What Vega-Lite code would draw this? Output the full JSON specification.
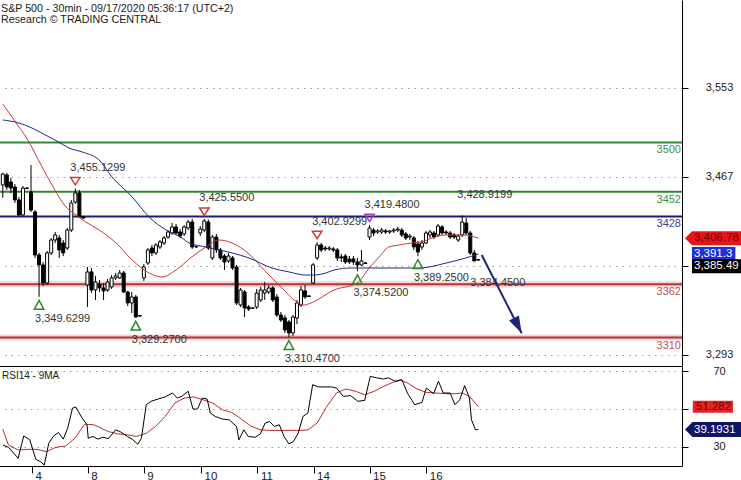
{
"$schema": "https://vega.github.io/schema/vega-lite/v6.json",
"padding": {"left": -1, "top": 0, "right": 0, "bottom": 0},
"background": "white",
"spacing": 0,
"bounds": "flush",
"config": {"view": {"stroke": null}, "font": "Liberation Sans", "scale": {"continuousPadding": 0}, "axis": {"labelFont": "Liberation Sans", "labelColor": "#222", "domainColor": "#000", "tickColor": "#000", "gridColor": "#9a9a9a", "gridDash": [1.5, 5], "labelOverlap": false, "labelFlush": false}},
"datasets": {
"bars": [
{"i":0,"o":3458.6,"h":3470.3,"l":3445.9,"c":3469.3},{"i":1,"o":3468.3,"h":3470.3,"l":3453.7,"c":3456.6},{"i":2,"o":3461.5,"h":3465.4,"l":3450.8,"c":3455.6},{"i":3,"o":3456.6,"h":3459.5,"l":3441.0,"c":3444.0},{"i":4,"o":3444.0,"h":3446.9,"l":3428.4,"c":3429.4},{"i":5,"o":3429.4,"h":3457.6,"l":3428.4,"c":3455.6},{"i":6,"o":3455.6,"h":3456.6,"l":3454.7,"c":3455.1},
{"i":7,"o":3451.8,"h":3478.0,"l":3432.3,"c":3434.2},{"i":8,"o":3432.3,"h":3434.2,"l":3387.5,"c":3390.4},{"i":9,"o":3390.4,"h":3392.4,"l":3349.63,"c":3380.7},{"i":10,"o":3380.7,"h":3383.6,"l":3360.2,"c":3363.1},{"i":11,"o":3363.1,"h":3394.3,"l":3361.2,"c":3392.4},{"i":12,"o":3392.4,"h":3407.0,"l":3390.4,"c":3405.0},{"i":13,"o":3405.0,"h":3412.8,"l":3402.1,"c":3409.9},{"i":14,"o":3407.0,"h":3409.9,"l":3387.5,"c":3395.3},{"i":15,"o":3402.1,"h":3405.0,"l":3389.4,"c":3392.4},{"i":16,"o":3397.2,"h":3416.7,"l":3395.3,"c":3414.7},{"i":17,"o":3414.7,"h":3444.0,"l":3412.8,"c":3441.0},{"i":18,"o":3442.0,"h":3455.13,"l":3440.1,"c":3450.8},{"i":19,"o":3450.8,"h":3453.7,"l":3426.4,"c":3427.4},{"i":20,"o":3427.4,"h":3428.4,"l":3425.5,"c":3426.4},
{"i":21,"o":3361.2,"h":3378.7,"l":3339.8,"c":3373.9},{"i":22,"o":3373.9,"h":3377.7,"l":3353.4,"c":3356.3},{"i":23,"o":3356.3,"h":3370.0,"l":3346.6,"c":3364.1},{"i":24,"o":3362.2,"h":3366.1,"l":3354.4,"c":3358.3},{"i":25,"o":3358.3,"h":3363.1,"l":3346.6,"c":3355.4},{"i":26,"o":3356.3,"h":3367.0,"l":3354.4,"c":3364.1},{"i":27,"o":3359.3,"h":3370.9,"l":3357.3,"c":3368.0},{"i":28,"o":3368.0,"h":3372.9,"l":3366.1,"c":3370.0},{"i":29,"o":3368.0,"h":3375.8,"l":3367.0,"c":3372.9},{"i":30,"o":3372.9,"h":3374.8,"l":3353.4,"c":3354.4},{"i":31,"o":3354.4,"h":3355.4,"l":3340.7,"c":3343.7},{"i":32,"o":3343.7,"h":3354.4,"l":3333.9,"c":3349.5},{"i":33,"o":3349.5,"h":3351.5,"l":3329.27,"c":3330.0},{"i":34,"o":3331.0,"h":3332.0,"l":3330.0,"c":3331.5},
{"i":35,"o":3368.0,"h":3381.6,"l":3365.1,"c":3378.7},{"i":36,"o":3382.6,"h":3397.2,"l":3380.7,"c":3395.3},{"i":37,"o":3397.2,"h":3400.1,"l":3389.4,"c":3392.4},{"i":38,"o":3392.4,"h":3402.1,"l":3390.4,"c":3400.1},{"i":39,"o":3398.2,"h":3405.0,"l":3396.3,"c":3403.1},{"i":40,"o":3402.1,"h":3408.9,"l":3400.1,"c":3407.0},{"i":41,"o":3407.9,"h":3414.7,"l":3406.0,"c":3412.8},{"i":42,"o":3411.8,"h":3421.6,"l":3409.9,"c":3417.7},{"i":43,"o":3417.7,"h":3420.6,"l":3409.9,"c":3411.8},{"i":44,"o":3412.8,"h":3415.7,"l":3407.0,"c":3408.9},{"i":45,"o":3410.9,"h":3419.6,"l":3408.9,"c":3417.7},{"i":46,"o":3416.7,"h":3424.5,"l":3414.7,"c":3422.5},{"i":47,"o":3422.5,"h":3425.5,"l":3396.3,"c":3398.2},{"i":48,"o":3398.2,"h":3399.2,"l":3397.2,"c":3398.7},
{"i":49,"o":3411.8,"h":3418.6,"l":3408.9,"c":3415.7},{"i":50,"o":3414.7,"h":3425.55,"l":3412.8,"c":3423.5},{"i":51,"o":3422.5,"h":3425.0,"l":3395.3,"c":3397.2},{"i":52,"o":3387.5,"h":3409.9,"l":3385.5,"c":3407.9},{"i":53,"o":3407.9,"h":3410.9,"l":3392.4,"c":3395.3},{"i":54,"o":3395.3,"h":3397.2,"l":3385.5,"c":3387.5},{"i":55,"o":3389.4,"h":3391.4,"l":3375.8,"c":3383.6},{"i":56,"o":3384.6,"h":3392.4,"l":3382.6,"c":3389.4},{"i":57,"o":3387.5,"h":3389.4,"l":3375.8,"c":3377.7},{"i":58,"o":3378.7,"h":3380.7,"l":3341.7,"c":3343.7},{"i":59,"o":3341.7,"h":3358.3,"l":3339.8,"c":3356.3},{"i":60,"o":3354.4,"h":3356.3,"l":3330.0,"c":3338.8},{"i":61,"o":3339.8,"h":3341.7,"l":3335.9,"c":3337.8},{"i":62,"o":3338.8,"h":3339.8,"l":3337.8,"c":3338.3},
{"i":63,"o":3339.8,"h":3357.3,"l":3337.8,"c":3353.4},{"i":64,"o":3346.6,"h":3359.3,"l":3344.6,"c":3356.3},{"i":65,"o":3353.4,"h":3364.1,"l":3346.6,"c":3356.3},{"i":66,"o":3354.4,"h":3361.2,"l":3352.4,"c":3358.3},{"i":67,"o":3358.3,"h":3360.2,"l":3344.6,"c":3346.6},{"i":68,"o":3349.5,"h":3352.4,"l":3330.0,"c":3332.0},{"i":69,"o":3332.0,"h":3334.9,"l":3325.2,"c":3327.1},{"i":70,"o":3329.1,"h":3332.0,"l":3314.5,"c":3317.4},{"i":71,"o":3325.2,"h":3327.1,"l":3310.47,"c":3314.5},{"i":72,"o":3314.5,"h":3332.0,"l":3311.5,"c":3330.0},{"i":73,"o":3329.1,"h":3346.6,"l":3323.2,"c":3343.7},{"i":74,"o":3341.7,"h":3360.2,"l":3339.8,"c":3356.3},{"i":75,"o":3355.4,"h":3361.2,"l":3347.6,"c":3349.5},{"i":76,"o":3350.5,"h":3351.5,"l":3349.5,"c":3350.0},
{"i":77,"o":3363.1,"h":3382.6,"l":3362.2,"c":3380.7},{"i":78,"o":3387.5,"h":3402.93,"l":3385.5,"c":3400.1},{"i":79,"o":3400.1,"h":3402.1,"l":3393.3,"c":3395.3},{"i":80,"o":3397.2,"h":3399.2,"l":3394.3,"c":3396.3},{"i":81,"o":3396.3,"h":3399.2,"l":3394.3,"c":3397.2},{"i":82,"o":3396.3,"h":3398.2,"l":3393.3,"c":3395.3},{"i":83,"o":3395.3,"h":3397.2,"l":3384.6,"c":3387.5},{"i":84,"o":3388.5,"h":3391.4,"l":3383.6,"c":3387.5},{"i":85,"o":3389.4,"h":3391.4,"l":3381.6,"c":3383.6},{"i":86,"o":3386.5,"h":3389.4,"l":3381.6,"c":3383.6},{"i":87,"o":3386.5,"h":3389.4,"l":3380.7,"c":3383.6},{"i":88,"o":3383.6,"h":3387.5,"l":3374.52,"c":3380.7},{"i":89,"o":3380.7,"h":3395.3,"l":3379.7,"c":3384.6},{"i":90,"o":3382.6,"h":3383.6,"l":3381.6,"c":3382.1},
{"i":91,"o":3407.9,"h":3419.48,"l":3405.0,"c":3416.7},{"i":92,"o":3414.7,"h":3416.7,"l":3408.9,"c":3411.8},{"i":93,"o":3412.8,"h":3415.7,"l":3410.9,"c":3413.8},{"i":94,"o":3412.8,"h":3416.7,"l":3410.9,"c":3414.7},{"i":95,"o":3413.8,"h":3415.7,"l":3410.9,"c":3412.8},{"i":96,"o":3412.8,"h":3414.7,"l":3410.9,"c":3413.8},{"i":97,"o":3413.8,"h":3416.7,"l":3411.8,"c":3414.7},{"i":98,"o":3414.7,"h":3417.7,"l":3412.8,"c":3415.7},{"i":99,"o":3414.7,"h":3416.7,"l":3407.9,"c":3409.9},{"i":100,"o":3410.9,"h":3412.8,"l":3405.0,"c":3407.0},{"i":101,"o":3407.9,"h":3410.9,"l":3405.0,"c":3408.9},{"i":102,"o":3407.0,"h":3408.9,"l":3395.3,"c":3398.2},{"i":103,"o":3401.1,"h":3404.0,"l":3389.25,"c":3393.3},{"i":104,"o":3398.2,"h":3405.0,"l":3395.3,"c":3402.1},
{"i":105,"o":3402.1,"h":3413.8,"l":3401.1,"c":3411.8},{"i":106,"o":3409.9,"h":3414.7,"l":3407.0,"c":3412.8},{"i":107,"o":3411.8,"h":3413.8,"l":3406.0,"c":3407.9},{"i":108,"o":3409.9,"h":3420.6,"l":3407.9,"c":3418.6},{"i":109,"o":3417.7,"h":3419.6,"l":3409.9,"c":3411.8},{"i":110,"o":3412.8,"h":3414.7,"l":3409.9,"c":3411.8},{"i":111,"o":3411.8,"h":3413.8,"l":3406.0,"c":3407.9},{"i":112,"o":3409.9,"h":3411.8,"l":3406.0,"c":3407.9},{"i":113,"o":3405.0,"h":3410.9,"l":3403.1,"c":3408.9},{"i":114,"o":3409.9,"h":3428.92,"l":3407.9,"c":3422.5},{"i":115,"o":3421.6,"h":3426.4,"l":3409.9,"c":3411.8},{"i":116,"o":3411.8,"h":3413.8,"l":3390.4,"c":3392.4},{"i":117,"o":3392.4,"h":3395.3,"l":3384.45,"c":3384.6},{"i":118,"o":3386.0,"h":3386.5,"l":3384.6,"c":3385.49}
],
"ma": [
{"i":0,"v":3537.4,"s":"f"},{"i":2.8,"v":3521.9,"s":"f"},{"i":6.5,"v":3500.4,"s":"f"},{"i":9.5,"v":3478.0,"s":"f"},{"i":12.2,"v":3458.6,"s":"f"},{"i":15.7,"v":3437.1,"s":"f"},{"i":18.2,"v":3429.4,"s":"f"},{"i":20.6,"v":3422.5,"s":"f"},{"i":23.9,"v":3414.8,"s":"f"},{"i":28.1,"v":3402.1,"s":"f"},{"i":32.1,"v":3385.5,"s":"f"},{"i":36.3,"v":3372.9,"s":"f"},{"i":39.5,"v":3369.0,"s":"f"},{"i":43.0,"v":3375.8,"s":"f"},{"i":46.9,"v":3388.5,"s":"f"},{"i":50.4,"v":3398.2,"s":"f"},{"i":53.6,"v":3405.0,"s":"f"},{"i":56.9,"v":3402.1,"s":"f"},{"i":61.1,"v":3391.4,"s":"f"},{"i":65.3,"v":3373.9,"s":"f"},{"i":69.3,"v":3358.3,"s":"f"},{"i":72.3,"v":3346.6,"s":"f"},{"i":74.7,"v":3341.7,"s":"f"},{"i":76.5,"v":3343.7,"s":"f"},{"i":82.2,"v":3356.3,"s":"f"},{"i":87.9,"v":3363.1,"s":"f"},{"i":90.9,"v":3377.7,"s":"f"},{"i":93.4,"v":3388.5,"s":"f"},{"i":95.8,"v":3398.2,"s":"f"},{"i":98.3,"v":3400.1,"s":"f"},{"i":101.5,"v":3402.1,"s":"f"},{"i":104.0,"v":3403.1,"s":"f"},{"i":106.5,"v":3407.0,"s":"f"},{"i":110.0,"v":3409.9,"s":"f"},{"i":114.0,"v":3409.9,"s":"f"},{"i":116.2,"v":3408.9,"s":"f"},{"i":118,"v":3406.78,"s":"f"},
{"i":0,"v":3521.9,"s":"s"},{"i":4.0,"v":3518.9,"s":"s"},{"i":7.2,"v":3514.1,"s":"s"},{"i":11.5,"v":3505.3,"s":"s"},{"i":13.9,"v":3500.4,"s":"s"},{"i":16.4,"v":3494.6,"s":"s"},{"i":19.7,"v":3490.7,"s":"s"},{"i":23.9,"v":3482.9,"s":"s"},{"i":27.1,"v":3466.4,"s":"s"},{"i":32.1,"v":3446.9,"s":"s"},{"i":36.3,"v":3427.4,"s":"s"},{"i":40.5,"v":3414.8,"s":"s"},{"i":44.5,"v":3407.0,"s":"s"},{"i":46.2,"v":3402.1,"s":"s"},{"i":50.4,"v":3398.2,"s":"s"},{"i":56.9,"v":3392.4,"s":"s"},{"i":61.1,"v":3387.5,"s":"s"},{"i":66.8,"v":3377.7,"s":"s"},{"i":71.0,"v":3373.9,"s":"s"},{"i":75.2,"v":3370.9,"s":"s"},{"i":77.2,"v":3370.9,"s":"s"},{"i":80.2,"v":3372.9,"s":"s"},{"i":82.2,"v":3375.8,"s":"s"},{"i":86.4,"v":3377.7,"s":"s"},{"i":91.6,"v":3377.7,"s":"s"},{"i":100.0,"v":3377.7,"s":"s"},{"i":103.3,"v":3377.7,"s":"s"},{"i":105.8,"v":3378.7,"s":"s"},{"i":110.0,"v":3382.6,"s":"s"},{"i":114.0,"v":3386.5,"s":"s"},{"i":118,"v":3391.3,"s":"s"}
],
"levels": [{"p":3500,"t":"R"},{"p":3452,"t":"R"},{"p":3428,"t":"P"},{"p":3362,"t":"S"},{"p":3310,"t":"S"}],
"piv": [
{"i":18,"p":3455.13,"lab":"3,455.1299","k":"H"},{"i":50,"p":3425.55,"lab":"3,425.5500","k":"H"},{"i":78,"p":3402.93,"lab":"3,402.9299","k":"H"},{"i":91,"p":3419.48,"lab":"3,419.4800","k":"P"},{"i":114,"p":3428.92,"lab":"3,428.9199","k":"HN"},
{"i":9,"p":3349.63,"lab":"3,349.6299","k":"L"},{"i":33,"p":3329.27,"lab":"3,329.2700","k":"L"},{"i":71,"p":3310.47,"lab":"3,310.4700","k":"L"},{"i":88,"p":3374.52,"lab":"3,374.5200","k":"L"},{"i":103,"p":3389.25,"lab":"3,389.2500","k":"L"},{"i":117,"p":3384.45,"lab":"3,384.4500","k":"LN"}
],
"arrow": [{"i":118.83,"p":3390.4,"i2":128.76,"p2":3314.2}],
"tags": [{"p":3406.78,"lab":"3,406.78","t":"a"},{"p":3391.3,"lab":"3,391.3","t":"b"},{"p":3385.49,"lab":"3,385.49","t":"c"}],
"rtags": [{"v":51.282,"lab":"51.282","t":"m"},{"v":39.1931,"lab":"39.1931","t":"r"}],
"heads": [{"line":"S&P 500 - 30min - 09/17/2020 05:36:17 (UTC+2)","n":1},{"line":"Research © TRADING CENTRAL","n":2}],
"rsi": [
{"i":0,"v":39.4,"s":"m"},{"i":1.4,"v":31.0,"s":"m"},{"i":3.8,"v":28.4,"s":"m"},{"i":6.1,"v":28.7,"s":"m"},{"i":8.5,"v":28.7,"s":"m"},{"i":10.8,"v":27.5,"s":"m"},{"i":13.2,"v":29.8,"s":"m"},{"i":15.6,"v":30.5,"s":"m"},{"i":17.9,"v":34.6,"s":"m"},{"i":20.3,"v":42.0,"s":"m"},{"i":22.6,"v":41.7,"s":"m"},{"i":24.4,"v":39.9,"s":"m"},{"i":26.2,"v":38.1,"s":"m"},{"i":28.5,"v":36.9,"s":"m"},{"i":30.9,"v":36.4,"s":"m"},{"i":33.2,"v":35.5,"s":"m"},{"i":35.6,"v":37.2,"s":"m"},{"i":37.9,"v":40.8,"s":"m"},{"i":40.3,"v":46.1,"s":"m"},{"i":42.7,"v":53.2,"s":"m"},{"i":45.0,"v":55.8,"s":"m"},{"i":47.4,"v":56.4,"s":"m"},{"i":49.7,"v":54.9,"s":"m"},{"i":52.1,"v":53.2,"s":"m"},{"i":54.5,"v":49.6,"s":"m"},{"i":56.8,"v":48.2,"s":"m"},{"i":59.2,"v":44.7,"s":"m"},{"i":61.5,"v":41.1,"s":"m"},{"i":63.9,"v":39.0,"s":"m"},{"i":66.2,"v":38.7,"s":"m"},{"i":69.8,"v":38.7,"s":"m"},{"i":73.3,"v":38.7,"s":"m"},{"i":75.7,"v":39.0,"s":"m"},{"i":78.0,"v":42.6,"s":"m"},{"i":80.4,"v":51.4,"s":"m"},{"i":82.8,"v":58.5,"s":"m"},{"i":85.1,"v":60.6,"s":"m"},{"i":87.5,"v":59.4,"s":"m"},{"i":89.8,"v":57.6,"s":"m"},{"i":92.2,"v":59.4,"s":"m"},{"i":94.5,"v":62.0,"s":"m"},{"i":96.9,"v":64.2,"s":"m"},{"i":98.7,"v":65.2,"s":"m"},{"i":100.4,"v":63.8,"s":"m"},{"i":102.8,"v":60.6,"s":"m"},{"i":105.1,"v":58.8,"s":"m"},{"i":107.5,"v":58.5,"s":"m"},{"i":109.9,"v":58.1,"s":"m"},{"i":112.2,"v":58.1,"s":"m"},{"i":114.0,"v":58.5,"s":"m"},{"i":115.8,"v":56.7,"s":"m"},{"i":118,"v":51.282,"s":"m"},
{"i":0,"v":31.0,"s":"r"},{"i":1.4,"v":29.8,"s":"r"},{"i":3.8,"v":24.0,"s":"r"},{"i":5.2,"v":35.8,"s":"r"},{"i":6.7,"v":33.7,"s":"r"},{"i":8.2,"v":23.4,"s":"r"},{"i":9.4,"v":22.2,"s":"r"},{"i":10.3,"v":20.4,"s":"r"},{"i":11.4,"v":31.9,"s":"r"},{"i":12.6,"v":35.8,"s":"r"},{"i":13.8,"v":37.6,"s":"r"},{"i":15.0,"v":34.1,"s":"r"},{"i":16.1,"v":39.9,"s":"r"},{"i":17.3,"v":50.5,"s":"r"},{"i":18.1,"v":51.1,"s":"r"},{"i":19.7,"v":45.2,"s":"r"},{"i":20.9,"v":41.7,"s":"r"},{"i":21.2,"v":34.6,"s":"r"},{"i":22.4,"v":35.5,"s":"r"},{"i":23.6,"v":34.1,"s":"r"},{"i":24.8,"v":35.1,"s":"r"},{"i":26.2,"v":34.4,"s":"r"},{"i":28.0,"v":39.0,"s":"r"},{"i":29.1,"v":38.1,"s":"r"},{"i":30.9,"v":35.5,"s":"r"},{"i":32.1,"v":34.1,"s":"r"},{"i":33.5,"v":31.4,"s":"r"},{"i":34.4,"v":34.6,"s":"r"},{"i":35.6,"v":52.3,"s":"r"},{"i":36.8,"v":54.1,"s":"r"},{"i":38.5,"v":55.3,"s":"r"},{"i":40.3,"v":56.4,"s":"r"},{"i":42.1,"v":58.5,"s":"r"},{"i":43.3,"v":55.8,"s":"r"},{"i":44.4,"v":56.7,"s":"r"},{"i":46.0,"v":59.4,"s":"r"},{"i":47.2,"v":50.0,"s":"r"},{"i":48.3,"v":50.0,"s":"r"},{"i":49.5,"v":55.8,"s":"r"},{"i":50.7,"v":55.3,"s":"r"},{"i":51.5,"v":47.9,"s":"r"},{"i":52.7,"v":46.1,"s":"r"},{"i":54.5,"v":44.7,"s":"r"},{"i":56.2,"v":44.3,"s":"r"},{"i":58.0,"v":40.8,"s":"r"},{"i":58.6,"v":33.7,"s":"r"},{"i":59.8,"v":39.0,"s":"r"},{"i":60.9,"v":35.5,"s":"r"},{"i":62.7,"v":35.1,"s":"r"},{"i":63.9,"v":36.9,"s":"r"},{"i":65.1,"v":42.6,"s":"r"},{"i":66.2,"v":43.4,"s":"r"},{"i":67.4,"v":40.8,"s":"r"},{"i":68.6,"v":41.7,"s":"r"},{"i":69.8,"v":35.5,"s":"r"},{"i":71.0,"v":31.6,"s":"r"},{"i":72.1,"v":32.8,"s":"r"},{"i":73.3,"v":37.2,"s":"r"},{"i":74.5,"v":46.1,"s":"r"},{"i":75.7,"v":47.9,"s":"r"},{"i":76.9,"v":62.9,"s":"r"},{"i":78.3,"v":61.7,"s":"r"},{"i":81.6,"v":61.7,"s":"r"},{"i":82.8,"v":61.1,"s":"r"},{"i":84.5,"v":56.7,"s":"r"},{"i":86.3,"v":57.1,"s":"r"},{"i":88.1,"v":54.1,"s":"r"},{"i":89.8,"v":54.6,"s":"r"},{"i":91.2,"v":67.3,"s":"r"},{"i":92.8,"v":66.5,"s":"r"},{"i":94.5,"v":65.9,"s":"r"},{"i":95.7,"v":66.5,"s":"r"},{"i":97.3,"v":64.7,"s":"r"},{"i":99.0,"v":65.6,"s":"r"},{"i":100.4,"v":58.5,"s":"r"},{"i":102.2,"v":52.3,"s":"r"},{"i":104.0,"v":53.5,"s":"r"},{"i":105.1,"v":61.1,"s":"r"},{"i":106.9,"v":58.1,"s":"r"},{"i":108.1,"v":64.7,"s":"r"},{"i":109.3,"v":58.5,"s":"r"},{"i":111.0,"v":58.5,"s":"r"},{"i":112.2,"v":52.3,"s":"r"},{"i":113.4,"v":54.9,"s":"r"},{"i":114.6,"v":62.4,"s":"r"},{"i":115.8,"v":55.8,"s":"r"},{"i":116.3,"v":44.3,"s":"r"},{"i":117.3,"v":39.0,"s":"r"},{"i":118,"v":39.1931,"s":"r"}
]
},
"vconcat": [
{
"width": 683, "height": 366,
"layer": [
{"data": {"name": "levels"}, "transform": [{"filter": "datum.t=='S'"}], "mark": {"type": "bar", "orient": "horizontal", "height": 6, "color": "#f6d2d2", "strokeWidth": 0},
 "encoding": {"x": {"datum": -0.943, "type": "quantitative"}, "x2": {"datum": 168.54},
  "y": {"field": "p", "type": "quantitative", "title": null, "scale": {"domain": [3282.3, 3638.7], "nice": false, "zero": false, "padding": 0},
  "axis": {"orient": "right", "values": [3293.33, 3380, 3466.67, 3553.33], "format": ",.0f", "labelExpr": "datum.value==3380?'':datum.label", "tickSize": 6, "labelPadding": 31, "labelAlign": "center", "labelBaseline": "middle", "labelFontSize": 11, "grid": true, "domain": true, "ticks": true, "labels": true, "title": null}}}},
{"data": {"name": "levels"}, "mark": {"type": "bar", "orient": "horizontal", "height": 2, "strokeWidth": 0},
 "encoding": {"x": {"datum": -0.943, "type": "quantitative"}, "x2": {"datum": 168.54},
  "y": {"field": "p", "type": "quantitative", "title": null},
  "fill": {"condition": [{"test": "datum.t=='R'", "value": "#2f8a2f"}, {"test": "datum.t=='P'", "value": "#1d1d78"}], "value": "#b23535"}}},
{"data": {"name": "levels"}, "mark": {"type": "text", "align": "right", "baseline": "alphabetic", "dx": -1, "dy": 11, "fontSize": 11},
 "encoding": {"x": {"datum": 168.54, "type": "quantitative"},
  "y": {"field": "p", "type": "quantitative", "title": null},
  "text": {"field": "p", "type": "quantitative", "format": "d"},
  "fill": {"condition": [{"test": "datum.t=='R'", "value": "#3f8f3f"}, {"test": "datum.t=='P'", "value": "#3d3d90"}], "value": "#c05050"}}},
{"data": {"name": "bars"}, "mark": {"type": "rule", "color": "#000", "strokeWidth": 1},
 "encoding": {"x": {"field": "i", "type": "quantitative", "title": null, "scale": {"domain": [-0.943, 168.54], "nice": false, "zero": false, "padding": 0},
   "axis": {"orient": "bottom", "ticks": false, "labels": false, "grid": false, "domain": true, "title": null}},
  "y": {"field": "l", "type": "quantitative", "title": null},
  "y2": {"field": "h"}}},
{"data": {"name": "bars"}, "mark": {"type": "bar", "width": 3, "stroke": "#000", "strokeWidth": 1},
 "encoding": {"x": {"field": "i", "type": "quantitative", "title": null},
  "y": {"field": "o", "type": "quantitative", "title": null},
  "y2": {"field": "c"},
  "fill": {"condition": {"test": "datum.c<datum.o", "value": "#000"}, "value": "#fff"}}},
{"data": {"name": "ma"}, "mark": {"type": "line", "strokeWidth": 1, "interpolate": "monotone"},
 "encoding": {"x": {"field": "i", "type": "quantitative", "title": null},
  "y": {"field": "v", "type": "quantitative", "title": null},
  "detail": {"field": "s"},
  "stroke": {"condition": {"test": "datum.s=='f'", "value": "#c43a3a"}, "value": "#1f2a80"}}},
{"data": {"name": "piv"}, "transform": [{"filter": "datum.k=='H'||datum.k=='P'"}], "mark": {"type": "point", "shape": "M-1,-2.3L1,-2.3L0,-0.75Z", "size": 90, "filled": false, "strokeWidth": 1.5, "opacity": 1},
 "encoding": {"x": {"field": "i", "type": "quantitative", "title": null},
  "y": {"field": "p", "type": "quantitative", "title": null},
  "stroke": {"condition": {"test": "datum.k=='P'", "value": "#b03fb0"}, "value": "#cc3b3b"}}},
{"data": {"name": "piv"}, "transform": [{"filter": "datum.k=='L'"}], "mark": {"type": "point", "shape": "M0,0.75L1,2.6L-1,2.6Z", "size": 90, "filled": false, "strokeWidth": 1.5, "opacity": 1, "color": "#2a8a2a"},
 "encoding": {"x": {"field": "i", "type": "quantitative", "title": null},
  "y": {"field": "p", "type": "quantitative", "title": null}}},
{"data": {"name": "piv"}, "transform": [{"filter": "datum.k=='H'||datum.k=='P'||datum.k=='HN'"}], "mark": {"type": "text", "align": "left", "baseline": "middle", "dx": -5, "dy": -20.5, "fontSize": 11, "color": "#333"},
 "encoding": {"x": {"field": "i", "type": "quantitative", "title": null},
  "y": {"field": "p", "type": "quantitative", "title": null},
  "text": {"field": "lab"}}},
{"data": {"name": "piv"}, "transform": [{"filter": "datum.k=='L'||datum.k=='LN'"}], "mark": {"type": "text", "align": "left", "baseline": "middle", "dx": -4, "dy": 22, "fontSize": 11, "color": "#333"},
 "encoding": {"x": {"field": "i", "type": "quantitative", "title": null},
  "y": {"field": "p", "type": "quantitative", "title": null},
  "text": {"field": "lab"}}},
{"data": {"name": "arrow"}, "mark": {"type": "rule", "strokeWidth": 2, "color": "#1d2670"},
 "encoding": {"x": {"field": "i", "type": "quantitative", "title": null},
  "y": {"field": "p", "type": "quantitative", "title": null},
  "x2": {"field": "i2"}, "y2": {"field": "p2"}}},
{"data": {"name": "arrow"}, "mark": {"type": "point", "shape": "M0,0L-0.65,-2L0.65,-2Z", "size": 289, "angle": -27, "filled": true, "opacity": 1, "color": "#1d2670", "strokeWidth": 0},
 "encoding": {"x": {"field": "i2", "type": "quantitative", "title": null},
  "y": {"field": "p2", "type": "quantitative", "title": null}}},
{"data": {"name": "tags"}, "transform": [{"filter": "datum.t=='a'"}], "mark": {"type": "point", "shape": "M0,0L1,-1L9,-1L9,1L1,1Z", "size": 196, "filled": true, "opacity": 1, "color": "#e8141b", "strokeWidth": 0},
 "encoding": {"x": {"datum": 169.28, "type": "quantitative"},
  "y": {"field": "p", "type": "quantitative", "title": null}}},
{"data": {"name": "tags"}, "transform": [{"filter": "datum.t=='b'"}], "mark": {"type": "point", "shape": "M1,-1L7.2,-1L7.2,1L1,1Z", "size": 196, "filled": true, "opacity": 1, "color": "#1e2fd6", "strokeWidth": 0},
 "encoding": {"x": {"datum": 169.28, "type": "quantitative"},
  "y": {"field": "p", "type": "quantitative", "title": null}}},
{"data": {"name": "tags"}, "transform": [{"filter": "datum.t=='c'"}], "mark": {"type": "point", "shape": "M1,-0.1L9,-0.1L9,1.9L1,1.9Z", "size": 196, "filled": true, "opacity": 1, "color": "#000", "strokeWidth": 0},
 "encoding": {"x": {"datum": 169.28, "type": "quantitative"},
  "y": {"field": "p", "type": "quantitative", "title": null}}},
{"data": {"name": "tags"}, "transform": [{"filter": "datum.t=='a'"}], "mark": {"type": "text", "align": "left", "baseline": "middle", "dx": 9, "fontSize": 11.5, "color": "#700000"},
 "encoding": {"x": {"datum": 169.28, "type": "quantitative"},
  "y": {"field": "p", "type": "quantitative", "title": null},
  "text": {"field": "lab"}}},
{"data": {"name": "tags"}, "transform": [{"filter": "datum.t=='b'"}], "mark": {"type": "text", "align": "left", "baseline": "middle", "dx": 9, "fontSize": 11.5, "color": "#fff"},
 "encoding": {"x": {"datum": 169.28, "type": "quantitative"},
  "y": {"field": "p", "type": "quantitative", "title": null},
  "text": {"field": "lab"}}},
{"data": {"name": "tags"}, "transform": [{"filter": "datum.t=='c'"}], "mark": {"type": "text", "align": "left", "baseline": "middle", "dx": 9, "dy": 6.3, "fontSize": 11.5, "color": "#fff"},
 "encoding": {"x": {"datum": 169.28, "type": "quantitative"},
  "y": {"field": "p", "type": "quantitative", "title": null},
  "text": {"field": "lab"}}},
{"data": {"name": "heads"}, "transform": [{"filter": "datum.n==1"}], "mark": {"type": "text", "align": "left", "baseline": "alphabetic", "dx": 2, "dy": 11.5, "fontSize": 10.7, "color": "#1a1a1a"},
 "encoding": {"x": {"datum": -0.943, "type": "quantitative"},
  "y": {"datum": 3638.7, "type": "quantitative"},
  "text": {"field": "line"}}},
{"data": {"name": "heads"}, "transform": [{"filter": "datum.n==2"}], "mark": {"type": "text", "align": "left", "baseline": "alphabetic", "dx": 2, "dy": 23.2, "fontSize": 10.7, "color": "#1a1a1a"},
 "encoding": {"x": {"datum": -0.943, "type": "quantitative"},
  "y": {"datum": 3638.7, "type": "quantitative"},
  "text": {"field": "line"}}}
]
},
{
"width": 683, "height": 100,
"layer": [
{"data": {"name": "rsi"}, "mark": {"type": "line", "strokeWidth": 1},
 "encoding": {"x": {"field": "i", "type": "quantitative", "title": null, "scale": {"domain": [-0.943, 168.54], "nice": false, "zero": false, "padding": 0},
   "axis": {"orient": "bottom", "values": [7.25, 21.1, 35, 49.2, 63.2, 77.1, 91, 105.1], "labelExpr": "datum.value<10?'4':datum.value<25?'8':datum.value<40?'9':datum.value<55?'10':datum.value<70?'11':datum.value<80?'14':datum.value<95?'15':'16'", "tickSize": 7, "labelAlign": "left", "labelBaseline": "top", "labelPadding": -3, "labelOffset": 3, "labelFontSize": 11.5, "grid": false, "domain": true, "ticks": true, "labels": true, "title": null}},
  "y": {"field": "v", "type": "quantitative", "title": null, "scale": {"domain": [19.9, 72.76], "nice": false, "zero": false, "padding": 0},
   "axis": {"orient": "right", "values": [30, 50, 70], "labelExpr": "datum.value==50?'':datum.label", "tickSize": 6, "labelPadding": 31, "labelAlign": "center", "labelBaseline": "middle", "labelFontSize": 11, "grid": true, "domain": true, "ticks": true, "labels": true, "title": null}},
  "detail": {"field": "s"},
  "stroke": {"condition": {"test": "datum.s=='m'", "value": "#b53030"}, "value": "#000"}}},
{"data": {"name": "heads"}, "transform": [{"filter": "datum.n==1"}], "mark": {"type": "text", "align": "left", "baseline": "alphabetic", "dx": 3, "dy": 12.5, "fontSize": 10, "color": "#1a1a1a", "text": "RSI14 - 9MA"},
 "encoding": {"x": {"datum": -0.943, "type": "quantitative"},
  "y": {"datum": 72.76, "type": "quantitative"}}},
{"data": {"name": "rtags"}, "transform": [{"filter": "datum.t=='m'"}], "mark": {"type": "point", "shape": "M1.3,-1L8,-1L8,1L1.3,1Z", "size": 144, "filled": true, "opacity": 1, "color": "#e42424", "strokeWidth": 0},
 "encoding": {"x": {"datum": 169.28, "type": "quantitative"},
  "y": {"field": "v", "type": "quantitative", "title": null}}},
{"data": {"name": "rtags"}, "transform": [{"filter": "datum.t=='r'"}], "mark": {"type": "point", "shape": "M0,0L1,-1L9,-1L9,1L1,1Z", "size": 225, "filled": true, "opacity": 1, "color": "#0f1666", "strokeWidth": 0},
 "encoding": {"x": {"datum": 169.28, "type": "quantitative"},
  "y": {"field": "v", "type": "quantitative", "title": null}}},
{"data": {"name": "rtags"}, "transform": [{"filter": "datum.t=='m'"}], "mark": {"type": "text", "align": "left", "baseline": "middle", "dx": 11, "fontSize": 11.5, "color": "#700000"},
 "encoding": {"x": {"datum": 169.28, "type": "quantitative"},
  "y": {"field": "v", "type": "quantitative", "title": null},
  "text": {"field": "lab"}}},
{"data": {"name": "rtags"}, "transform": [{"filter": "datum.t=='r'"}], "mark": {"type": "text", "align": "left", "baseline": "middle", "dx": 9, "fontSize": 11.5, "color": "#fff"},
 "encoding": {"x": {"datum": 169.28, "type": "quantitative"},
  "y": {"field": "v", "type": "quantitative", "title": null},
  "text": {"field": "lab"}}}
]
}
]
}
